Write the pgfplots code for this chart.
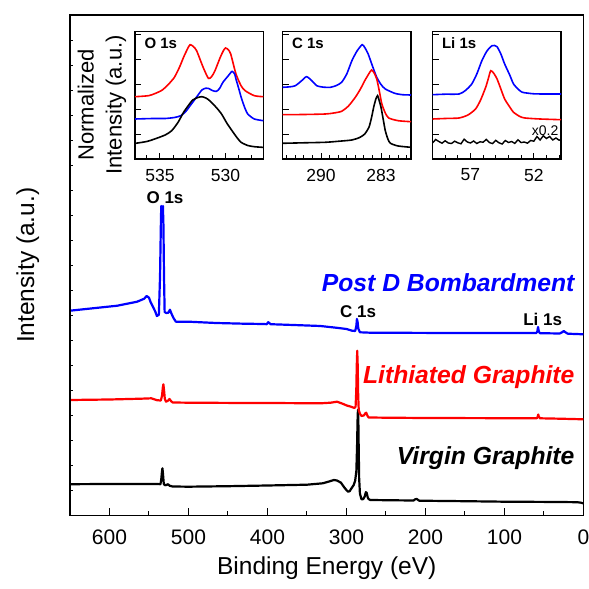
\documentclass[border=0pt]{standalone}
\usepackage{fontspec}
\setmainfont{Liberation Sans}
\usepackage{pgfplots}
\pgfplotsset{compat=1.18}

\pgfplotsset{
  inset/.style={
    scale only axis, width=128.5pt, height=127.5pt,
    ymin=0, ymax=127.5, x dir=reverse,
    axis line style={line width=1.1pt},
    xtick pos=bottom, ytick pos=left, tick align=inside,
    ytick={25,50,...,125}, yticklabels={},
    major tick length=6pt, minor tick length=3.5pt,
    tick style={line width=0.9pt, black},
    ticklabel style={font=\fontsize{17.5}{20}\selectfont},
    xticklabel style={anchor=center, yshift=-16pt},
    /pgf/number format/assume math mode=true,
    every axis plot/.append style={line width=1.6pt, smooth, tension=0.4},
  },
}
\tikzset{title1s/.style={anchor=west, font=\fontsize{15}{17}\selectfont\bfseries}}

\begin{document}
\begin{tikzpicture}
\begin{axis}[
  at={(0pt,0pt)}, anchor=south west,
  scale only axis, width=513.5pt, height=500.7pt,
  xmin=0, xmax=650, x dir=reverse, ymin=0, ymax=500.7,
  axis line style={line width=1.3pt},
  xtick={0,100,...,600}, minor xtick={50,150,...,550},
  xtick pos=bottom, ytick=\empty, tick align=inside,
  major tick length=8pt, minor tick length=5pt,
  tick style={line width=1pt, black},
  ticklabel style={font=\fontsize{21}{25}\selectfont},
  xticklabel style={anchor=center, yshift=-22pt},
  /pgf/number format/assume math mode=true,
  xlabel={Binding Energy (eV)}, ylabel={Intensity (a.u.)},
  label style={font=\fontsize{24.5}{29}\selectfont},
  xlabel style={at={(axis description cs:0.5,-0.104)}, anchor=center},
  ylabel style={at={(axis description cs:-0.082,0.5)}, anchor=center},
  every axis plot/.append style={line width=2.2pt, line join=round},
]
% Virgin graphite survey
\addplot[black] coordinates {
(650,31.5) (600,31.7) (560,31.8) (540,31.7) (535.5,31.5) (534.5,36) (533.6,44) (533,47.4)
(532.3,42) (531.3,32) (530,30.5) (528,30.7) (526,31.5) (524,30) (520,29.2) (500,29)
(450,29.5) (400,30.2) (350,31) (330,32.4) (322,34.2) (316,35.7) (312,35.2) (307,33)
(303,28.5) (300,25.5) (298,24) (296,24.5) (294,27) (291,30.5) (289,35) (287.5,45)
(286.6,70) (286,95) (285.5,106) (285,95) (284.5,65) (284,38) (283,22) (281,16.4)
(279,16.5) (277,19) (275.5,23.5) (274.5,23) (273,18) (272,16.7) (270,15.7) (240,15.4)
(215,15.2) (213,16.5) (211,16.7) (208,15) (150,14.5) (100,14) (50,13.8) (20,13.6)
(8,13.5) (3,13) (0,12.2)};
% Lithiated graphite survey
\addplot[red] coordinates {
(650,115.7) (600,116.2) (560,117) (547,117.4) (540,115.5) (535,115.2) (533.5,120)
(532.5,128) (531.8,131.4) (531,126) (530,117) (528.5,114) (526,115) (524,116.7)
(522,114.5) (520,113.2) (500,113) (450,112.8) (400,112.7) (333,112.4) (320,113)
(312,114) (305,112) (299,110) (295,109.2) (290,107.7) (288.5,109) (287.6,125)
(287,150) (286.4,165) (285.8,150) (285.2,120) (284.5,105.7) (283,102) (281,99.7)
(278,100.3) (276,102.5) (275,103) (273.5,100) (272,98.2) (250,98) (200,97.7)
(150,97.6) (100,97.5) (59,97.5) (58,99) (57.3,101.2) (56.5,99) (55,97.4) (30,97) (0,96.4)};
% Survey after D bombardment
\addplot[blue] coordinates {
(650,205) (620,207.5) (590,210) (565,214) (556,217) (553,219.7) (550,218) (548,213.7)
(545,209) (542,204) (540,199.7) (537.5,201) (536,240) (535,290) (534.5,309.7)
(533.8,306) (533.3,303.7) (532.8,306) (532.4,309.7) (531.7,290) (531,240) (530.2,203.7)
(528,202.7) (525.5,203) (523.5,206) (521.5,202) (519,197.7) (516,194) (500,194)
(465,192.7) (430,192) (405,191.7) (401,191.5) (399,193.5) (396,191.5) (360,190.5)
(333,189.7) (310,187.7) (300,186.7) (293,185) (289,184.7) (287.5,190) (286.8,196.7)
(286,194) (285,187) (283,183.4) (270,183) (200,182.8) (150,182.7) (100,182.6)
(60,182.6) (58.5,184) (57.5,188.7) (56.5,184) (55,182.5) (30,182.2) (27,183.5)
(25,184.7) (23,183.5) (20,182) (10,181.7) (0,181.4)};

\node[font=\fontsize{17}{20}\selectfont\bfseries] at (axis cs:529.7,317.7) {O 1s};
\node[font=\fontsize{17}{20}\selectfont\bfseries] at (axis cs:285.4,204) {C 1s};
\node[font=\fontsize{17}{20}\selectfont\bfseries] at (axis cs:51.6,196.4) {Li 1s};
\node[anchor=east, blue, font=\fontsize{24.7}{29}\selectfont\bfseries\itshape] at (axis cs:7,232.7) {Post D Bombardment};
\node[anchor=east, red, font=\fontsize{24.7}{29}\selectfont\bfseries\itshape] at (axis cs:7,139) {Lithiated Graphite};
\node[anchor=east, black, font=\fontsize{24.7}{29}\selectfont\bfseries\itshape] at (axis cs:7,57.7) {Virgin Graphite};
\end{axis}

% short intensity ticks along the left edge
\begin{axis}[
  at={(0pt,0pt)}, anchor=south west,
  scale only axis, width=513.5pt, height=500.7pt,
  xmin=0, xmax=650, x dir=reverse, ymin=0, ymax=500.7,
  hide x axis, axis y line*=left,
  y axis line style={line width=1.3pt, -},
  ytick={25,50,...,500}, yticklabels={}, tick align=inside,
  major tick length=3pt, tick style={line width=0.8pt, black},
]
\end{axis}

% O 1s detail
\begin{axis}[inset, at={(65pt,356.7pt)}, anchor=south west,
  xmin=527.1, xmax=536.9, xtick={530,535}, minor xtick={528,529,531,532,533,534,536}]
\addplot[red] coordinates {
(536.9,62.3) (535.8,63.5) (534.9,68.3) (534.4,74) (533.9,81.6) (533.5,92) (533.2,101.6)
(532.9,110) (532.7,114.3) (532.45,112.5) (532.2,108.3) (531.7,91.6) (531.3,80.6)
(531.05,82.5) (530.8,88.3) (530.4,101.6) (530.15,108.5) (530.0,111) (529.8,109.5)
(529.6,105) (529.2,85) (528.8,73) (528.5,68.3) (527.8,63.3) (527.1,62.3)};
\addplot[blue] coordinates {
(536.9,40) (535.5,40.5) (534.6,40.5) (533.9,41.5) (533.4,43.3) (533.0,48) (532.6,55)
(532.2,62) (531.8,69) (531.5,70.8) (531.3,70.6) (531.0,68.5) (530.7,67.6) (530.45,70.5)
(530.2,76.6) (529.8,83) (529.5,87.6) (529.3,85) (529.2,80) (529.0,71) (528.8,61.6)
(528.55,52) (528.3,45) (527.8,40) (527.1,38.3)};
\addplot[black] coordinates {
(536.9,15.6) (536,17.5) (535.4,20) (534.6,24) (534.1,28.3) (533.6,37) (533.2,46.6)
(532.8,54) (532.5,59) (532.1,61.5) (531.8,62.3) (531.5,61) (531.2,58.3) (530.7,51.5)
(530.3,45) (529.9,36) (529.5,28.3) (529.1,21) (528.8,16.6) (528.3,13.5) (527.8,12.3) (527.1,11.6)};
\node[title1s] at (rel axis cs:0,1) [xshift=6pt, yshift=-12pt] {O 1s};
\end{axis}

% C 1s detail
\begin{axis}[inset, at={(212.5pt,356.7pt)}, anchor=south west,
  xmin=279.5, xmax=294.5, xtick={283,290}, minor xtick={280,281,282,284,285,...,289,291,292,293,294}]
\addplot[blue] coordinates {
(294.5,71.7) (293.6,72.2) (293.0,73.3) (292.3,78) (291.7,82.3) (291.1,78.5) (290.5,73.3)
(289.7,71.8) (288.9,71.7) (288.2,73.5) (287.6,76.7) (287.0,85) (286.4,98.3) (285.8,108)
(285.2,114.3) (284.9,111.5) (284.5,105) (284.0,93) (283.5,81.7) (283.0,74.5) (282.5,70)
(281.4,65.7) (280.5,64.3) (279.5,64)};
\addplot[red] coordinates {
(294.5,44.3) (292,44.5) (289.5,45) (288.5,46) (287.6,47.7) (286.8,53) (286.0,61.7)
(285.4,70) (284.9,78.3) (284.4,85.5) (284.1,89) (283.8,86) (283.5,80) (283.2,68)
(282.9,55) (282.5,46) (282.1,41) (281.0,38.3) (279.5,37.3)};
\addplot[black] coordinates {
(294.5,15.7) (292,16.2) (289.5,16.7) (288,17.7) (286.4,19) (285.5,21.5) (284.9,25)
(284.4,32) (284.1,41.7) (283.85,52) (283.6,60) (283.4,63.3) (283.2,58) (283.0,51.7)
(282.75,40) (282.5,28.3) (282.2,20) (281.9,15.7) (281.0,13) (279.5,11.7)};
\node[title1s] at (rel axis cs:0,1) [xshift=6pt, yshift=-12pt] {C 1s};
\end{axis}

% Li 1s detail
\begin{axis}[inset, at={(362.5pt,356.7pt)}, anchor=south west,
  xmin=49.85, xmax=60, xtick={52,57}, minor xtick={50,51,53,54,55,56,58,59}]
\addplot[blue] coordinates {
(60,64.3) (59,64.8) (57.9,65) (57.4,68.5) (56.9,75) (56.5,85) (56.1,98.3) (55.7,108)
(55.3,113.3) (55.1,113.5) (54.9,112.3) (54.6,105) (54.3,95) (53.9,84) (53.6,75)
(53.2,69.5) (52.9,66.7) (52,65.2) (51,65) (49.85,65)};
\addplot[red] coordinates {
(60,40) (58.8,40.6) (57.9,41) (57.2,44) (56.6,50) (56.2,59) (55.8,71.7) (55.6,80)
(55.4,88.3) (55.15,85.5) (54.9,80) (54.6,70) (54.3,60) (53.9,52) (53.6,46.7)
(53.1,42.5) (52.7,41) (51.5,40) (49.85,39.3)};
\addplot[black, sharp plot, line width=1.4pt] coordinates {
(60,16) (59.75,19.5) (59.5,17.5) (59.25,15.8) (59,18.2) (58.75,16) (58.5,15.5)
(58.25,17.8) (58,16.2) (57.75,15.2) (57.5,19.8) (57.25,17) (57,16) (56.75,18)
(56.5,15.5) (56.25,17.2) (56,16.8) (55.75,19.6) (55.5,16.4) (55.25,15.4) (55,18.6)
(54.75,16.2) (54.5,15) (54.25,18.5) (54,16.5) (53.75,17.5) (53.5,15.6) (53.25,19.2)
(53,16.4) (52.75,17) (52.5,15.8) (52.25,18.5) (52,17.8) (51.75,22.5) (51.5,19)
(51.25,23.2) (51,20.5) (50.75,22.5) (50.5,19) (50.25,21) (50,18.8) (49.85,19.5)};
\node[title1s] at (rel axis cs:0,1) [xshift=6pt, yshift=-12pt] {Li 1s};
\node[font=\fontsize{14}{16}\selectfont] at (axis cs:51.1,28) {x0.2};
\end{axis}

\node[rotate=90, align=center, font=\fontsize{22}{28}\selectfont] at (32pt,410.7pt) {Normalized\\Intensity (a.u.)};

\pgfresetboundingbox
\path[use as bounding box] (-70pt,-73.3pt) rectangle (519pt,515.7pt);
\end{tikzpicture}
\end{document}
